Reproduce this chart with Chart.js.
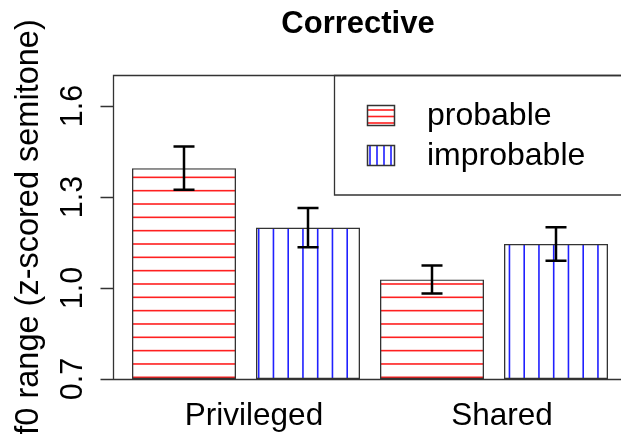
<!DOCTYPE html>
<html>
<head>
<meta charset="utf-8">
<script src="https://cdn.jsdelivr.net/npm/chart.js@4"></script>
<style>
  html, body { margin: 0; padding: 0; background: #fff; overflow: hidden; }
  #wrap { position: relative; width: 640px; height: 434px; }
</style>
</head>
<body>
<div id="wrap"><canvas id="chart"></canvas></div>
<script>
// values
const categories = ['Privileged', 'Shared'];
const seriesNames = ['probable', 'improbable'];
const probable = [1.395, 1.028];
const improbable = [1.199, 1.145];
const probableErr = [0.071, 0.046];
const improbableErr = [0.065, 0.055];
const yTicks = [0.7, 1.0, 1.3, 1.6];
const chartTitle = 'Corrective';
const yTitle = 'f0 range (z-scored semitone)';

const FONT = '"Liberation Sans", Arial, sans-serif';
const FRAME = '#333';
const HATCH_W = 1.6;

// hatch lines inside each bar, like R's density/angle fill
const hatchPlugin = {
  id: 'hatch',
  beforeDatasetsDraw(chart) {
    const ctx = chart.ctx;
    const area = chart.chartArea;
    chart.data.datasets.forEach((ds, i) => {
      const meta = chart.getDatasetMeta(i);
      meta.data.forEach(bar => {
        const left = bar.x - bar.width / 2;
        const right = bar.x + bar.width / 2;
        const top = bar.y;
        const bottom = bar.base;
        ctx.save();
        ctx.beginPath();
        ctx.rect(left + 1, top + 1, right - left - 2, bottom - top - 1);
        ctx.clip();
        ctx.fillStyle = ds.hatchColor;
        if (ds.hatch === 'h') {
          for (let y = bottom - 1.7; y > top; y -= 13.33) {
            ctx.fillRect(left, y - HATCH_W / 2, right - left, HATCH_W);
          }
        } else {
          for (let x = area.left + 3.95; x < right; x += 14.75) {
            if (x < left) continue;
            ctx.fillRect(x - HATCH_W / 2, top, HATCH_W, bottom - top);
          }
        }
        ctx.restore();
      });
    });
  }
};

const errorBarPlugin = {
  id: 'errorBars',
  afterDatasetsDraw(chart) {
    const ctx = chart.ctx;
    const yScale = chart.scales.y;
    ctx.save();
    ctx.strokeStyle = '#000';
    ctx.lineWidth = 2.5;
    chart.data.datasets.forEach((ds, i) => {
      const meta = chart.getDatasetMeta(i);
      meta.data.forEach((bar, j) => {
        const v = ds.data[j];
        const e = ds.errors[j];
        const yHi = yScale.getPixelForValue(v + e);
        const yLo = yScale.getPixelForValue(v - e);
        const x = bar.x;
        ctx.beginPath();
        ctx.moveTo(x, yHi);
        ctx.lineTo(x, yLo);
        ctx.moveTo(x - 10.5, yHi);
        ctx.lineTo(x + 10.5, yHi);
        ctx.moveTo(x - 10.5, yLo);
        ctx.lineTo(x + 10.5, yLo);
        ctx.stroke();
      });
    });
    ctx.restore();
  }
};

// frame, rotated y ticks, title and the boxed legend
const decorPlugin = {
  id: 'decor',
  afterDraw(chart) {
    const ctx = chart.ctx;
    const area = chart.chartArea;
    const yScale = chart.scales.y;
    const frameLeft = 113.5;
    const top = Math.round(area.top) + 0.5;
    const bottom = Math.round(area.bottom) + 0.5;
    const W = chart.width;

    ctx.save();
    ctx.strokeStyle = FRAME;
    ctx.lineWidth = 1.3;
    ctx.beginPath();
    ctx.moveTo(W, top);
    ctx.lineTo(frameLeft, top);
    ctx.lineTo(frameLeft, bottom);
    ctx.lineTo(W, bottom);
    yTicks.forEach(t => {
      const py = Math.round(yScale.getPixelForValue(t)) + 0.5;
      ctx.moveTo(frameLeft, py);
      ctx.lineTo(frameLeft - 13, py);
    });
    ctx.stroke();

    ctx.fillStyle = '#000';
    ctx.font = '30.5px ' + FONT;
    ctx.textAlign = 'center';
    ctx.textBaseline = 'alphabetic';
    yTicks.forEach(t => {
      const py = yScale.getPixelForValue(t);
      ctx.save();
      ctx.translate(82, py);
      ctx.rotate(-Math.PI / 2);
      ctx.fillText(t.toFixed(1), 0, 0);
      ctx.restore();
    });

    ctx.font = 'bold 31px ' + FONT;
    ctx.fillText(chartTitle, 358, 33);

    // legend box
    ctx.beginPath();
    ctx.rect(334.5, top, W, 195 - top);
    ctx.stroke();
    ctx.font = '32px ' + FONT;
    ctx.textAlign = 'left';
    ctx.textBaseline = 'middle';
    chart.data.datasets.forEach((ds, i) => {
      const sx = 367, sy = 105 + i * 40, sw = 27, sh = 20;
      ctx.fillStyle = ds.hatchColor;
      if (ds.hatch === 'h') {
        for (let y = sy + 5; y < sy + sh; y += 6.5) {
          ctx.fillRect(sx, y - HATCH_W / 2, sw, HATCH_W);
        }
      } else {
        for (let x = sx + 3; x < sx + sw; x += 7) {
          ctx.fillRect(x - HATCH_W / 2, sy, HATCH_W, sh);
        }
      }
      ctx.strokeStyle = FRAME;
      ctx.lineWidth = 1.5;
      ctx.strokeRect(sx + 0.5, sy + 0.5, sw, sh);
      ctx.lineWidth = 1.3;
      ctx.fillStyle = '#000';
      ctx.fillText(ds.label, 427, sy + sh / 2 + 1);
    });
    ctx.restore();
  }
};

new Chart(document.getElementById('chart'), {
  type: 'bar',
  data: {
    labels: categories,
    datasets: [
      { label: seriesNames[0], data: probable, errors: probableErr, hatch: 'h', hatchColor: '#ff2020' },
      { label: seriesNames[1], data: improbable, errors: improbableErr, hatch: 'v', hatchColor: '#2020ff' }
    ].map(ds => Object.assign(ds, {
      base: 0.7,
      backgroundColor: 'rgba(0,0,0,0)',
      borderColor: FRAME,
      borderWidth: 1.3,
      borderSkipped: false,
      categoryPercentage: 1,
      barPercentage: 104 / 124
    }))
  },
  options: {
    responsive: true,
    maintainAspectRatio: false,
    animation: false,
    layout: { padding: { top: 75, right: 22, left: 0, bottom: 0 } },
    plugins: {
      legend: { display: false },
      title: { display: false },
      tooltip: { enabled: false }
    },
    scales: {
      x: {
        grid: { display: false, drawTicks: false },
        border: { display: false },
        ticks: { color: '#000', font: { family: FONT, size: 31.5 }, padding: 18, labelOffset: 8 },
        afterFit(s) { s.height = 55; }
      },
      y: {
        min: 0.7,
        max: 1.702,
        grid: { display: false, drawTicks: false },
        border: { display: false },
        ticks: { display: false },
        title: {
          display: true,
          text: yTitle,
          color: '#000',
          font: { family: FONT, size: 32.5 },
          padding: { top: 10, bottom: 0 }
        },
        afterFit(s) { s.width = 122; }
      }
    }
  },
  plugins: [hatchPlugin, errorBarPlugin, decorPlugin]
});
</script>
</body>
</html>
